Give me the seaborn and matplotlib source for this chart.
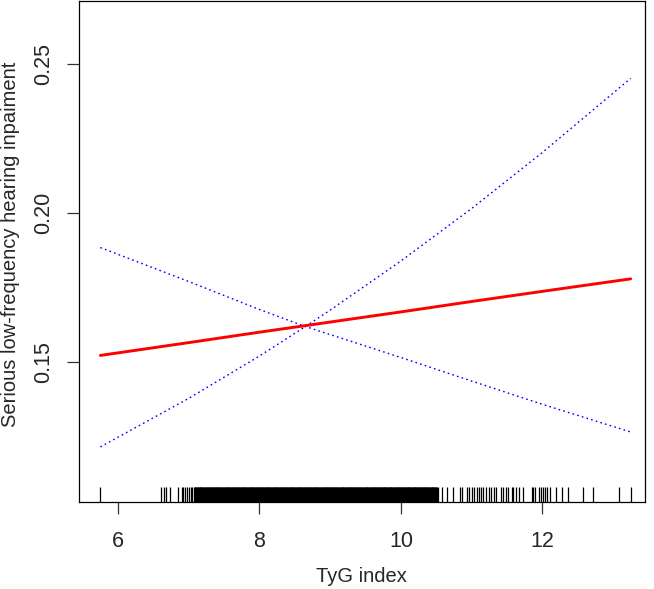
import numpy as np
import pandas as pd
import matplotlib
matplotlib.use("Agg")
import matplotlib.pyplot as plt
import seaborn as sns

# ---- data ----
curve_x = [5.75, 7.0, 8.0, 8.65, 9.0, 10.0, 11.0, 12.0, 13.25]
fit_y   = [0.1523, 0.1566, 0.1601, 0.1623, 0.1635, 0.1669, 0.1704, 0.1738, 0.1780]
upper_y = [0.1216, 0.1379, 0.1521, 0.1620, 0.1675, 0.1840, 0.2016, 0.2204, 0.2453]
lower_y = [0.1885, 0.1771, 0.1677, 0.1620, 0.1593, 0.1516, 0.1437, 0.1359, 0.1266]

rug_sparse = [5.75, 6.61, 6.65, 6.68, 6.73, 6.85, 6.90, 6.92, 6.94, 6.97, 7.00,
              7.03, 7.05, 7.07, 7.09,
              10.52, 10.58, 10.65, 10.74, 10.83, 10.87, 10.94, 10.96, 11.00, 11.03,
              11.07, 11.10, 11.13, 11.16, 11.20, 11.24, 11.27, 11.32, 11.34, 11.41,
              11.44, 11.48, 11.52, 11.57, 11.59, 11.63, 11.67, 11.72, 11.85, 11.87,
              11.90, 11.95, 11.98, 12.01, 12.04, 12.07, 12.11, 12.20, 12.28, 12.36,
              12.58, 12.71, 13.09, 13.25]
rug_dense = [7.10, 7.12, 7.14, 7.16, 7.18, 7.20, 7.22, 7.24, 7.26, 7.28,
             7.30, 7.32, 7.34, 7.36, 7.38, 7.40, 7.42, 7.44, 7.46, 7.48,
             7.50, 7.52, 7.54, 7.56, 7.58, 7.60, 7.62, 7.64, 7.66, 7.68,
             7.70, 7.72, 7.74, 7.76, 7.78, 7.80, 7.82, 7.84, 7.86, 7.88,
             7.90, 7.92, 7.94, 7.96, 7.98, 8.00, 8.02, 8.04, 8.06, 8.08,
             8.10, 8.12, 8.14, 8.16, 8.18, 8.20, 8.22, 8.24, 8.26, 8.28,
             8.30, 8.32, 8.34, 8.36, 8.38, 8.40, 8.42, 8.44, 8.46, 8.48,
             8.50, 8.52, 8.54, 8.56, 8.58, 8.60, 8.62, 8.64, 8.66, 8.68,
             8.70, 8.72, 8.74, 8.76, 8.78, 8.80, 8.82, 8.84, 8.86, 8.88,
             8.90, 8.92, 8.94, 8.96, 8.98, 9.00, 9.02, 9.04, 9.06, 9.08,
             9.10, 9.12, 9.14, 9.16, 9.18, 9.20, 9.22, 9.24, 9.26, 9.28,
             9.30, 9.32, 9.34, 9.36, 9.38, 9.40, 9.42, 9.44, 9.46, 9.48,
             9.50, 9.52, 9.54, 9.56, 9.58, 9.60, 9.62, 9.64, 9.66, 9.68,
             9.70, 9.72, 9.74, 9.76, 9.78, 9.80, 9.82, 9.84, 9.86, 9.88,
             9.90, 9.92, 9.94, 9.96, 9.98, 10.00, 10.02, 10.04, 10.06, 10.08,
             10.10, 10.12, 10.14, 10.16, 10.18, 10.20, 10.22, 10.24, 10.26, 10.28,
             10.30, 10.32, 10.34, 10.36, 10.38, 10.40, 10.42, 10.44, 10.46, 10.48,
             10.50]

x_ticks = [6, 8, 10, 12]
y_ticks = [0.15, 0.20, 0.25]
y_tick_labels = ["0.15", "0.20", "0.25"]
x_label = "TyG index"
y_label = "Serious low-frequency hearing inpaiment"

# ---- plot ----
sns.set_style("white")
plt.rcParams["font.family"] = ["Liberation Sans", "DejaVu Sans"]

fig = plt.figure(figsize=(6.54, 5.89), dpi=100)
ax = fig.add_axes([0.1203, 0.1477, 0.986 - 0.1203, 0.998 - 0.1477])

df = pd.DataFrame({"x": curve_x, "fit": fit_y, "upper": upper_y, "lower": lower_y})

dot = (0, (1.2, 2.3))
sns.lineplot(data=df, x="x", y="upper", ax=ax, color="blue", lw=1.0,
             linestyle=dot, estimator=None)
sns.lineplot(data=df, x="x", y="lower", ax=ax, color="blue", lw=1.0,
             linestyle=dot, estimator=None)
sns.lineplot(data=df, x="x", y="fit", ax=ax, color="red", lw=2.1, estimator=None)

sns.rugplot(x=rug_sparse, ax=ax, height=0.03, color="black", linewidth=0.9,
            expand_margins=False)
sns.rugplot(x=rug_dense, ax=ax, height=0.03, color="black", linewidth=2.2,
            expand_margins=False)

ax.set_xlim(5.443, 13.45)
ax.set_ylim(0.1031, 0.2712)
ax.set_xticks(x_ticks)
ax.set_xticklabels([str(t) for t in x_ticks])
ax.set_yticks(y_ticks)
ax.set_yticklabels(y_tick_labels, rotation=90, va="center")

for s in ax.spines.values():
    s.set_color("black")
    s.set_linewidth(0.9)

ax.tick_params(axis="both", which="major", direction="out", length=8.6,
               width=0.9, color="#333333", labelsize=15.5,
               bottom=True, left=True)
ax.tick_params(axis="x", pad=12)
ax.tick_params(axis="y", pad=9)
ax.set_xlabel(x_label, fontsize=14.5)
ax.set_ylabel(y_label, fontsize=14.5)
ax.xaxis.set_label_coords(0.5, -0.130)
ax.yaxis.set_label_coords(-0.104, 0.515)

fig.savefig("out.png", dpi=100)
